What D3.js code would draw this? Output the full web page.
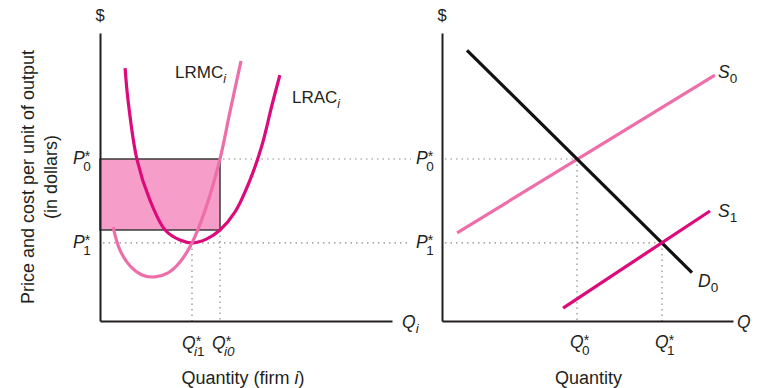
<!DOCTYPE html>
<html><head><meta charset="utf-8">
<script src="https://cdn.jsdelivr.net/npm/d3@7"></script>
<style>body{margin:0;background:#fff}svg{display:block}text{font-family:"Liberation Sans",Arial,sans-serif;fill:#231f20}</style>
</head><body><svg id="c" width="757" height="388"></svg>
<script>
// ---- data (economic units, 0..100 on each axis) ----
const lrac = [[8.6,87.8],[9.6,76.7],[12.7,55.9],[17.1,42.0],[22.3,31.6],[27.4,28.1],[31.8,27.1],[36.6,28.5],[41.1,31.6],[46.2,37.8],[51.4,49.0],[55.5,61.1],[58.9,75.0],[61.6,85.4]];
const lrmc = [[4.5,32.6],[6.8,24.7],[10.3,19.1],[14.4,16.0],[18.8,15.3],[23.3,16.7],[27.4,20.5],[31.5,27.1],[36.0,38.5],[41.1,56.3],[44.5,72.6],[48.3,90.3]];
const demand0 = [[8.6,94.0],[85.9,16.8]];
const supply0 = [[5.2,30.6],[93.8,85.4]];
const supply1 = [[41.6,4.5],[92.1,38.2]];
const prices = {P0:56.25, P1:27.1};
const firmQ = {Qi1:31.5, Qi0:41.1};
const marketQ = {Q0:46.4, Q1:75.6};
const rectBottom = 31.6;

const svg = d3.select("#c");
const xL = d3.scaleLinear().domain([0,100]).range([100,392]);
const yL = d3.scaleLinear().domain([0,100]).range([321,33]);
const xR = d3.scaleLinear().domain([0,100]).range([442,733]);
const yR = d3.scaleLinear().domain([0,100]).range([321,33]);

const FILL="#f69dca", DARK="#dc0a7b", LIGHT="#ee6eaa", AX="#231f20", DOT="#8a8a8a";

// shaded rectangle
svg.append("rect").attr("x",xL(0)).attr("y",yL(prices.P0))
  .attr("width",xL(firmQ.Qi0)-xL(0)).attr("height",yL(rectBottom)-yL(prices.P0))
  .attr("fill",FILL).attr("stroke","#3a3a3a").attr("stroke-width",1.5);

// dotted guides
function dline(x1,y1,x2,y2){svg.append("line").attr("x1",x1).attr("y1",y1).attr("x2",x2).attr("y2",y2)
  .attr("stroke",DOT).attr("stroke-width",1.2).attr("stroke-dasharray","1.5,4");}
dline(xL(firmQ.Qi0)+3,yL(prices.P0),411,yL(prices.P0));
dline(xR(0)+3,yR(prices.P0),xR(marketQ.Q0),yR(prices.P0));
dline(xL(0)+3,yL(prices.P1),411,yL(prices.P1));
dline(xR(0)+3,yR(prices.P1),xR(marketQ.Q1),yR(prices.P1));
dline(xL(firmQ.Qi1),yL(prices.P1),xL(firmQ.Qi1),yL(0));
dline(xL(firmQ.Qi0),yL(rectBottom),xL(firmQ.Qi0),yL(0));
dline(xR(marketQ.Q0),yR(prices.P0),xR(marketQ.Q0),yR(0));
dline(xR(marketQ.Q1),yR(prices.P1),xR(marketQ.Q1),yR(0));

// axes
function axes(x,y){
  svg.append("g").attr("transform",`translate(${x.range()[0]},0)`)
    .call(d3.axisLeft(y).tickValues([]).tickSizeOuter(0))
    .select(".domain").attr("stroke",AX).attr("stroke-width",2);
  svg.append("g").attr("transform",`translate(0,${y.range()[0]})`)
    .call(d3.axisBottom(x).tickValues([]).tickSizeOuter(0))
    .select(".domain").attr("stroke",AX).attr("stroke-width",2);
}
axes(xL,yL); axes(xR,yR);

// curves
function curve(data,x,y,color,w){
  svg.append("path").datum(data)
    .attr("d",d3.line().x(d=>x(d[0])).y(d=>y(d[1])).curve(d3.curveCatmullRom.alpha(0.5)))
    .attr("fill","none").attr("stroke",color).attr("stroke-width",w).attr("stroke-linecap","butt");
}
curve(lrac,xL,yL,DARK,3.2);
curve(lrmc,xL,yL,LIGHT,3.2);
curve(supply0,xR,yR,LIGHT,3.2);
curve(demand0,xR,yR,"#111",3.2);
curve(supply1,xR,yR,DARK,3.2);

// symbol: main letter (italic) with optional superscript * and stacked subscript, in one text element
function sym(x,y,main,sub,star,subItalic,size=17.5){
  const t=svg.append("text").attr("x",x).attr("y",y).attr("font-size",size);
  t.append("tspan").attr("font-style","italic").text(main);
  if(star){
    t.append("tspan").attr("dy",-3).attr("font-size",14).text("*");
    const s=t.append("tspan").attr("dx",-7).attr("dy",10).attr("font-size",13.5).text(sub);
    if(subItalic) s.attr("font-style","italic");
  } else if(sub!==undefined){
    const s=t.append("tspan").attr("dy",5).attr("font-size",13.5).text(sub);
    if(subItalic) s.attr("font-style","italic");
  }
  return t;
}
function txt(x,y,s,size,anchor){
  const t=svg.append("text").attr("x",x).attr("y",y).attr("font-size",size).text(s);
  if(anchor)t.attr("text-anchor",anchor);
  return t;
}
txt(xL(0),21,"$",16.5,"middle");
txt(xR(0),21,"$",16.5,"middle");
svg.append("text").attr("transform","translate(34,177) rotate(-90)").attr("text-anchor","middle").attr("font-size",18).text("Price and cost per unit of output");
svg.append("text").attr("transform","translate(57,177) rotate(-90)").attr("text-anchor","middle").attr("font-size",18).text("(in dollars)");

// P labels
sym(73,yL(prices.P0)+5,"P","0",true);
sym(73,yL(prices.P1)+5,"P","1",true);
sym(416,yR(prices.P0)+5,"P","0",true);
sym(416,yR(prices.P1)+5,"P","1",true);

// Q labels (firm)
function qfirm(x,y,d){
  const t=svg.append("text").attr("x",x).attr("y",y).attr("font-size",17.5);
  t.append("tspan").attr("font-style","italic").text("Q");
  t.append("tspan").attr("dy",-3).attr("font-size",14).text("*");
  t.append("tspan").attr("dx",-7).attr("dy",10).attr("font-size",13.5).attr("font-style","italic").text("i");
  t.append("tspan").attr("font-size",13.5).attr("font-style",d==="0"?"italic":"normal").text(d);
}
qfirm(182,349,"1");
qfirm(212,349,"0");
sym(570,348,"Q","0",true);
sym(655,348,"Q","1",true);
sym(402,328,"Q","i",false,true);
txt(737,328,"",17.5).attr("font-style","italic").text("Q");

// curve labels
{
  const t=txt(175,78,"",17); t.append("tspan").text("LRMC");
  t.append("tspan").attr("dy",5).attr("font-size",12.5).attr("font-style","italic").text("i");
  const u=txt(292,103,"",17); u.append("tspan").text("LRAC");
  u.append("tspan").attr("dy",5).attr("font-size",12.5).attr("font-style","italic").text("i");
}
sym(718,78,"S","0",false);
sym(718,217,"S","1",false);
sym(698,287,"D","0",false);

// axis titles
txt(243,384,"",18,"middle").html('Quantity (firm <tspan font-style="italic">i</tspan>)');
txt(xR(50)+1,384,"Quantity",18,"middle");
</script></body></html>
